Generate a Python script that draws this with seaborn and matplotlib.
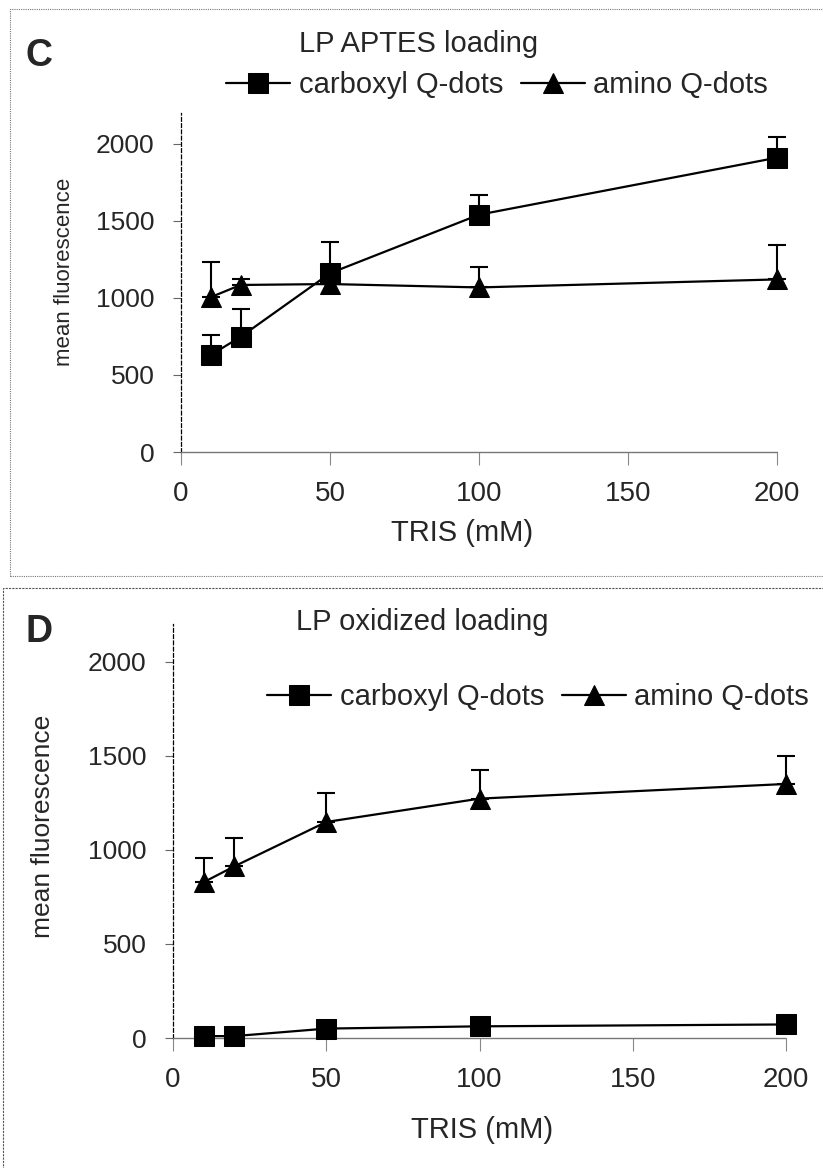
import matplotlib
matplotlib.use("Agg")
import matplotlib.pyplot as plt
from matplotlib.patches import Rectangle
import numpy as np
import pandas as pd
import seaborn as sns

# TRIS concentration (mM)
tris = [10, 20, 50, 100, 200]

# panel C - LP APTES loading
c_carboxyl = [630, 747, 1160, 1540, 1910]
c_carboxyl_err = [130, 180, 205, 130, 135]
c_amino = [1005, 1084, 1090, 1068, 1120]
c_amino_err = [230, 40, 60, 135, 225]

# panel D - LP oxidized loading
d_carboxyl = [10, 10, 50, 62, 72]
d_carboxyl_err = [5, 5, 10, 10, 10]
d_amino = [828, 912, 1148, 1272, 1350]
d_amino_err = [130, 150, 155, 150, 150]

series_names = ["carboxyl Q-dots", "amino Q-dots"]
y_ticks = [0, 500, 1000, 1500, 2000]
x_ticks = [0, 50, 100, 150, 200]

sns.set_style("white")
plt.rcParams["font.family"] = ["Liberation Sans", "DejaVu Sans"]

fig = plt.figure(figsize=(8.23, 11.68), dpi=100)

# dotted panel frames
fig.patches.append(Rectangle((0.012, 0.507), 1.0, 0.485, transform=fig.transFigure,
                             fill=False, ec="#777777", lw=0.8, ls=(0, (1, 1))))
fig.patches.append(Rectangle((0.004, -0.01), 1.0, 0.507, transform=fig.transFigure,
                             fill=False, ec="#555555", lw=0.8, ls=(0, (2, 1))))


def draw_panel(rect, carb, carb_err, amino, amino_err, title, letter,
               title_xy, letter_xy, leg_xy, ylab_fs, ylab_xy, xlab_xy):
    ax = fig.add_axes(rect)
    df = pd.DataFrame({
        "tris": tris * 2,
        "value": carb + amino,
        "series": [series_names[0]] * len(tris) + [series_names[1]] * len(tris),
    })
    # upper-only error bars
    for vals, errs in [(carb, carb_err), (amino, amino_err)]:
        eb = ax.errorbar(tris, vals, yerr=[np.zeros(len(tris)), errs], fmt="none",
                         ecolor="black", elinewidth=1.5, capsize=6.5, capthick=1.5, zorder=2)
        for art in eb.lines[1] + eb.lines[2]:
            art.set_clip_on(False)
    sns.lineplot(data=df, x="tris", y="value", style="series", hue="series",
                 palette=["black", "black"], markers={series_names[0]: "s", series_names[1]: "^"},
                 dashes=False, markersize=15, linewidth=1.6, markeredgecolor="black",
                 ax=ax, zorder=3, clip_on=False)

    ax.set_xlim(0, 200)
    ax.set_ylim(0, 2200)
    ax.set_xticks(x_ticks)
    ax.set_yticks(y_ticks)
    ax.tick_params(axis="y", direction="out", length=6, width=0.8, color="#666666",
                   labelsize=19, pad=13, left=True)
    ax.tick_params(axis="x", direction="out", length=9, width=0.8, color="#888888",
                   labelsize=20, pad=12, bottom=True)
    for s in ["top", "right"]:
        ax.spines[s].set_visible(False)
    ax.spines["left"].set_linestyle((0, (3, 2)))
    ax.spines["left"].set_linewidth(0.9)
    ax.spines["left"].set_color("black")
    ax.spines["bottom"].set_linestyle((0, (1, 1)))
    ax.spines["bottom"].set_linewidth(1.0)
    ax.spines["bottom"].set_color("#777777")

    ax.set_xlabel("TRIS (mM)", fontsize=21)
    ax.set_ylabel("mean fluorescence", fontsize=ylab_fs)
    ax.xaxis.set_label_coords(*xlab_xy)
    ax.yaxis.set_label_coords(*ylab_xy)

    handles, labels = ax.get_legend_handles_labels()
    ax.legend(handles, labels, ncol=2, frameon=False, loc="center",
              bbox_to_anchor=leg_xy, bbox_transform=fig.transFigure,
              fontsize=21, handlelength=2.2, handletextpad=0.3, columnspacing=0.6,
              borderaxespad=0)

    fig.text(*title_xy, title, fontsize=21, ha="center", va="center")
    fig.text(*letter_xy, letter, fontsize=27, fontweight="bold", ha="center", va="center")
    return ax


draw_panel([181 / 823, 1 - 452 / 1168, 596 / 823, 339 / 1168],
           c_carboxyl, c_carboxyl_err, c_amino, c_amino_err,
           "LP APTES loading", "C",
           (419 / 823, 1 - 44 / 1168), (39 / 823, 1 - 56 / 1168),
           (497 / 823, 1 - 85 / 1168), 16, (-0.178, 0.53), (0.471, -0.198))

draw_panel([173 / 823, 1 - 1038 / 1168, 613 / 823, 414 / 1168],
           d_carboxyl, d_carboxyl_err, d_amino, d_amino_err,
           "LP oxidized loading", "D",
           (422 / 823, 1 - 622 / 1168), (39 / 823, 1 - 632 / 1168),
           (538 / 823, 1 - 697 / 1168), 19, (-0.193, 0.512), (0.504, -0.188))

fig.savefig("out.png", dpi=100)
